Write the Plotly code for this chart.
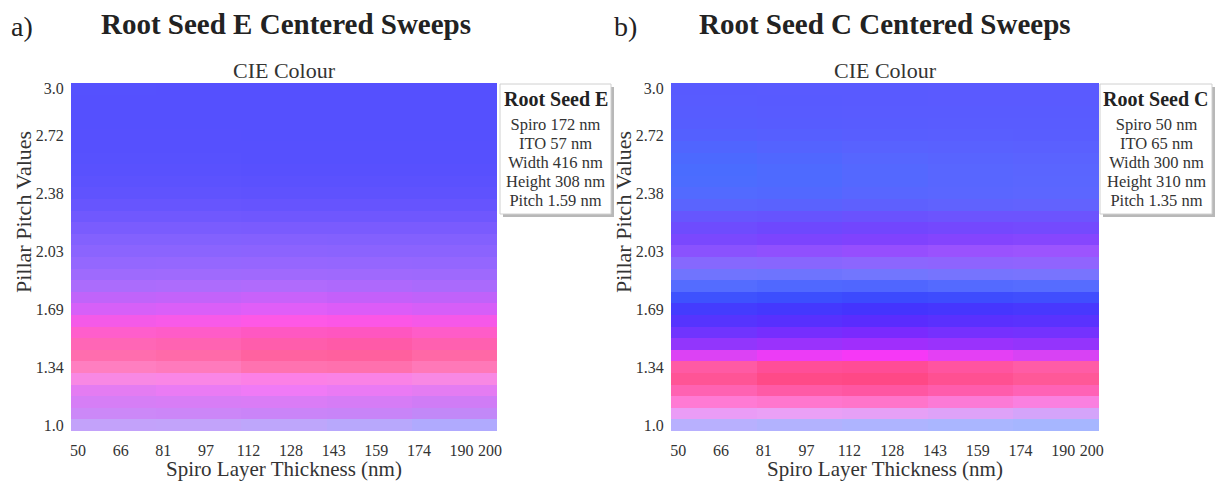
import numpy as np
import plotly.graph_objects as go

# ---------------- data ----------------
spiro_nm = np.linspace(50, 200, 30)          # x categories (Spiro layer thickness)
pitch_vals = np.linspace(1.0, 3.0, 30)       # y categories (pillar pitch)

x_tick_idx = list(range(0, 30, 3)) + [29]
y_tick_idx = list(range(0, 30, 5)) + [29]

# CIE colours per pitch row (bottom -> top), for five consecutive blocks of the Spiro sweep
A_G1 = ["#c3a2fa", "#cc88f8", "#d67ef6", "#e47cf2", "#f888e4", "#ff7ec0", "#ff6dae", "#ff66b6",
        "#ff5ecc", "#f45ae8", "#d660f8", "#c064fa", "#ab6cfc", "#9e6afd", "#9467fe", "#8b64fe",
        "#8361fe", "#7a5cfe", "#7058fe", "#6755fe", "#6053fe", "#5c52fe", "#5951fe", "#5751fe",
        "#5650fe", "#5650fe", "#5550fe", "#5550fe", "#5550fe", "#5551fe"]
A_G2 = ["#c2a3fa", "#cc86f8", "#d87df6", "#ea7bf4", "#fa86e6", "#ff7abc", "#ff6aa9", "#ff63b2",
        "#ff5cc8", "#f85ae8", "#da5ff8", "#c363fa", "#ad6cfc", "#9f6afd", "#9567fe", "#8b64fe",
        "#8361fe", "#7a5cfe", "#7058fe", "#6755fe", "#6053fe", "#5c52fe", "#5951fe", "#5751fe",
        "#5650fe", "#5650fe", "#5550fe", "#5550fe", "#5550fe", "#5550fe"]
A_G3 = ["#bea6fb", "#ca84f8", "#da7cf6", "#f07af6", "#fc80e6", "#ff72b0", "#ff62a0", "#ff5dac",
        "#ff58c2", "#fe58e6", "#e05ef8", "#c862fa", "#b06bfc", "#a069fd", "#9666fe", "#8c63fe",
        "#8460fe", "#7a5bfe", "#6f57fe", "#6654fe", "#5f52fe", "#5b51fe", "#5850fe", "#5650fe",
        "#5650fe", "#5550fe", "#5550fe", "#5550fe", "#5550fe", "#5550fe"]
A_G4 = ["#b8a8fc", "#c884f8", "#d67cf6", "#ea7af4", "#fa82e6", "#ff70ae", "#ff609e", "#ff5aa8",
        "#ff56c0", "#fc56e6", "#dc5cf8", "#c460fa", "#ae69fc", "#9f69fd", "#9566fe", "#8b63fe",
        "#8360fe", "#7a5bfe", "#6f57fe", "#6654fe", "#5f52fe", "#5b51fe", "#5850fe", "#5650fe",
        "#5650fe", "#5550fe", "#5550fe", "#5550fe", "#5550fe", "#5550fe"]
A_G5 = ["#b0aafe", "#c288f8", "#d07cf6", "#e47cf2", "#f888e4", "#ff78b8", "#ff68a6", "#ff60b0",
        "#ff5cc8", "#f658e8", "#d65ef8", "#c062fa", "#aa6afc", "#9e69fd", "#9466fe", "#8b63fe",
        "#8360fe", "#7a5bfe", "#6f57fe", "#6654fe", "#5f52fe", "#5b51fe", "#5850fe", "#5650fe",
        "#5650fe", "#5550fe", "#5550fe", "#5550fe", "#5550fe", "#5550fe"]

B_G1 = ["#b8b0fe", "#ea9cf6", "#ff7ad4", "#ff62b2", "#ff5496", "#ff5aa4", "#dc42f4", "#9236fc",
        "#7034fe", "#5634fe", "#443cfe", "#3e52fe", "#546cff", "#7074fe", "#8668fe", "#8a52fe",
        "#7a48fe", "#6e4cfe", "#6656fe", "#5a64fe", "#526aff", "#4c6cff", "#4a6cff", "#4c69ff",
        "#5065ff", "#5460ff", "#565dff", "#575cff", "#585bff", "#585aff"]
B_G2 = ["#b2b2fe", "#eaa0f6", "#ff76ce", "#ff5aa6", "#ff4a88", "#ff4e98", "#ec3cf6", "#9a32fc",
        "#762efe", "#5830fe", "#4438fe", "#3c4efe", "#5068ff", "#6e74fe", "#8866fe", "#9050fe",
        "#7c44fe", "#6e48fe", "#6654fe", "#5a62fe", "#5268ff", "#4e6aff", "#4e6aff", "#5067ff",
        "#5463ff", "#565fff", "#575cff", "#585bff", "#585aff", "#595aff"]
B_G3 = ["#aeb4ff", "#e6a0f6", "#ff74ca", "#ff56a2", "#ff4886", "#ff4c96", "#f638f6", "#a02efc",
        "#7a2afe", "#5a2cfe", "#4434fe", "#3c4afe", "#5066ff", "#7276fe", "#8c66fe", "#964efe",
        "#8042fe", "#7246fe", "#6a52fe", "#5e60fe", "#5866ff", "#5468ff", "#5468ff", "#5666ff",
        "#5862ff", "#585eff", "#585cff", "#595bff", "#595aff", "#595aff"]
B_G4 = ["#aab6ff", "#dea2f8", "#fc7ad6", "#ff5cac", "#ff5092", "#ff54a0", "#e440f4", "#9a32fc",
        "#7630fe", "#5a30fe", "#4636fe", "#3e4cfe", "#546aff", "#7674fe", "#8e64fe", "#9a52fe",
        "#8444fe", "#7448fe", "#6c54fe", "#6062fe", "#5a66ff", "#5866ff", "#5866ff", "#5864ff",
        "#5961ff", "#595eff", "#595cff", "#595bff", "#5a5aff", "#5a5aff"]
B_G5 = ["#a6b6ff", "#d4a4fa", "#fa80e0", "#ff62b6", "#ff5898", "#ff5ca6", "#d842f4", "#9434fc",
        "#7432fe", "#5a32fe", "#4838fe", "#404efe", "#566cff", "#7874fe", "#9064fe", "#9c54fe",
        "#8646fe", "#744afe", "#6c54fe", "#6262fe", "#5c66ff", "#5a66ff", "#5a65ff", "#5a63ff",
        "#5a60ff", "#595dff", "#595cff", "#595bff", "#5a5aff", "#5a5aff"]

BOX_A = ["Spiro 172 nm", "ITO 57 nm", "Width 416 nm", "Height 308 nm", "Pitch 1.59 nm"]
BOX_B = ["Spiro 50 nm", "ITO 65 nm", "Width 300 nm", "Height 310 nm", "Pitch 1.35 nm"]


def hex_rgb(h):
    h = h.lstrip("#")
    return [int(h[i:i + 2], 16) for i in (0, 2, 4)]


def build_grid(groups):
    grid = []
    for r in range(len(pitch_vals)):
        row = []
        for c in range(len(spiro_nm)):
            src = groups[min(c // 6, len(groups) - 1)]
            row.append(hex_rgb(src[r]))
        grid.append(row)
    return grid


FONT = "Palatino Linotype, Book Antiqua, Palatino, Liberation Serif, serif"
dx = (spiro_nm[-1] - spiro_nm[0]) / (len(spiro_nm) - 1)
dy = (pitch_vals[-1] - pitch_vals[0]) / (len(pitch_vals) - 1)

fig = go.Figure()
fig.add_trace(go.Image(z=build_grid([A_G1, A_G2, A_G3, A_G4, A_G5]), x0=spiro_nm[0], dx=dx,
                       y0=pitch_vals[0], dy=dy, xaxis="x", yaxis="y", hoverinfo="skip"))
fig.add_trace(go.Image(z=build_grid([B_G1, B_G2, B_G3, B_G4, B_G5]), x0=spiro_nm[0], dx=dx,
                       y0=pitch_vals[0], dy=dy, xaxis="x2", yaxis="y2", hoverinfo="skip"))

W, H = 1221, 481
ML, MR, MT, MB = 71, 122, 83, 50
PW, PH = W - ML - MR, H - MT - MB


def xp(px):
    return (px - ML) / PW


def yp(py):
    return (H - MB - py) / PH


xcommon = dict(
    range=[spiro_nm[0] - dx / 2, spiro_nm[-1] + dx / 2],
    tickvals=[spiro_nm[i] for i in x_tick_idx],
    ticktext=[str(int(round(spiro_nm[i]))) for i in x_tick_idx],
    showgrid=False, zeroline=False, showline=False,
    ticks="outside", ticklen=5, tickcolor="rgba(0,0,0,0)",
    tickfont=dict(family=FONT, size=16, color="#333"),
    title=dict(text="Spiro Layer Thickness (nm)", font=dict(family=FONT, size=21, color="#333"),
               standoff=3),
)
ycommon = dict(
    range=[pitch_vals[0] - dy / 2, pitch_vals[-1] + dy / 2],
    tickvals=[pitch_vals[i] for i in y_tick_idx],
    ticktext=[str(round(float(pitch_vals[i]), 2)) for i in y_tick_idx],
    showgrid=False, zeroline=False, showline=False,
    ticks="outside", ticklen=3, tickcolor="rgba(0,0,0,0)",
    tickfont=dict(family=FONT, size=16, color="#333"),
    scaleanchor=False, autorange=False,
)

fig.update_layout(
    width=W, height=H,
    margin=dict(l=ML, r=MR, t=MT, b=MB, autoexpand=False),
    paper_bgcolor="white", plot_bgcolor="white",
    showlegend=False,
    xaxis=dict(domain=[0, xp(497)], anchor="y", **xcommon),
    yaxis=dict(domain=[0, 1], anchor="x", **ycommon),
    xaxis2=dict(domain=[xp(671), 1], anchor="y2", **xcommon),
    yaxis2=dict(domain=[0, 1], anchor="x2", **ycommon),
)

annots = []


def add_text(text, px, py, size, color="#222", angle=0, anchor="middle"):
    annots.append(dict(text=text, x=xp(px), y=yp(py), xref="paper", yref="paper",
                       xanchor="center", yanchor=anchor, showarrow=False, textangle=angle,
                       font=dict(family=FONT, size=size, color=color)))


add_text("a)", 22, 26, 28)
add_text("<b>Root Seed E Centered Sweeps</b>", 286, 24, 29)
add_text("CIE Colour", 284, 70, 22, "#333")
add_text("Pillar Pitch Values", 23, 212, 22, "#333", angle=-90)
add_text("b)", 625, 26, 28)
add_text("<b>Root Seed C Centered Sweeps</b>", 885, 24, 29)
add_text("CIE Colour", 885, 70, 22, "#333")
add_text("Pillar Pitch Values", 623, 212, 22, "#333", angle=-90)

shapes = []


def add_box(x0, x1, title, lines):
    y0, y1 = 84, 214
    shapes.append(dict(type="rect", xref="paper", yref="paper",
                       x0=xp(x0 + 3), x1=xp(x1 + 3), y0=yp(y1 + 3), y1=yp(y0 + 3),
                       fillcolor="#b8b8b8", line=dict(width=0), layer="above"))
    shapes.append(dict(type="rect", xref="paper", yref="paper",
                       x0=xp(x0), x1=xp(x1), y0=yp(y1), y1=yp(y0),
                       fillcolor="white", line=dict(color="#d0d0d0", width=1), layer="above"))
    cx = (x0 + x1) / 2
    add_text("<b>" + title + "</b>", cx, 99, 20)
    body = "<br>".join('<span style="font-size:16.5px">' + ln + "</span>" for ln in lines)
    add_text(body, cx, 162, 14.6, "#333")


add_box(500, 611, "Root Seed E", BOX_A)
add_box(1100, 1212, "Root Seed C", BOX_B)

fig.update_layout(annotations=annots, shapes=shapes)
fig.write_html("out.html")
